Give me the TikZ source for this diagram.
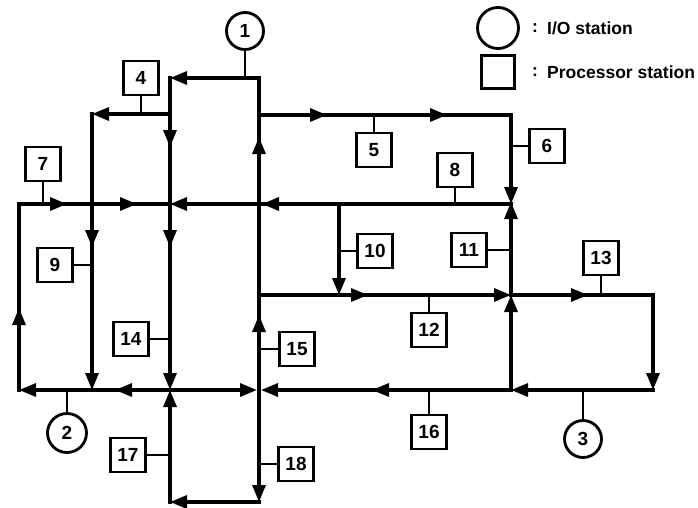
\documentclass[tikz,border=0pt]{standalone}
\usepackage{fontspec}
\setmainfont{Liberation Sans}
\usetikzlibrary{arrows.meta,decorations.markings}
\begin{document}
\begin{tikzpicture}[x=1pt,y=-1pt,
  bus/.style={line width=3.2pt,line cap=rect},
  stem/.style={line width=2.5pt},
  proc/.style={draw,line width=2.8pt,minimum width=35pt,minimum height=34pt,inner sep=0pt,font=\fontsize{19}{19}\selectfont\bfseries},
  io/.style={draw,circle,line width=2.8pt,minimum size=37pt,inner sep=0pt,font=\fontsize{19}{19}\selectfont\bfseries},
  legtext/.style={anchor=west,inner sep=0pt,font=\fontsize{17.5}{17.5}\selectfont\bfseries},
  tip/.style={-{Triangle[length=17pt,width=13pt]}},
  mk/.style={postaction={decorate,decoration={markings,mark=at position #1 with {\arrow{Triangle[length=17pt,width=13pt]}}}}},
]
\useasboundingbox (0,0) rectangle (698,508);

% junctions
\coordinate (TR) at (259,78);
\coordinate (TL) at (170,78);
\coordinate (A4) at (170,114);
\coordinate (L4) at (92,114);
\coordinate (C204) at (170,204);
\coordinate (C390) at (170,390);
\coordinate (CB) at (170,502);
\coordinate (DB) at (259,502);
\coordinate (D390) at (259,390);
\coordinate (D295) at (259,295);
\coordinate (D204) at (259,204);
\coordinate (D115) at (259,115);
\coordinate (E115) at (511,115);
\coordinate (E204) at (511,204);
\coordinate (E295) at (511,295);
\coordinate (E390) at (511,390);
\coordinate (F295) at (653,295);
\coordinate (F390) at (653,390);
\coordinate (L204) at (19,204);
\coordinate (L390) at (19,390);
\coordinate (N390) at (92,390);
\coordinate (M204) at (339,204);
\coordinate (M295) at (339,295);

% stations
\node[io] (io1) at (245,31) {1};
\node[io,minimum size=39pt] (io2) at (67,433) {2};
\node[io] (io3) at (583,439) {3};
\node[proc] (b4) at (141,78) {4};
\node[proc] (b5) at (374,150) {5};
\node[proc] (b6) at (547,146) {6};
\node[proc] (b7) at (43,164) {7};
\node[proc] (b8) at (455,170) {8};
\node[proc] (b9) at (55,265) {9};
\node[proc] (b10) at (375,251) {10};
\node[proc] (b11) at (469,250) {11};
\node[proc] (b12) at (429,330) {12};
\node[proc] (b13) at (601,258) {13};
\node[proc] (b14) at (131,339) {14};
\node[proc] (b15) at (297,349) {15};
\node[proc] (b16) at (429,432) {16};
\node[proc] (b17) at (128,455) {17};
\node[proc] (b18) at (296,464) {18};

% legend
\node[io,minimum size=41pt] (legc) at (498,28) {};
\node[draw,line width=2.8pt,minimum size=33pt,inner sep=0pt] (legs) at (498,72) {};
\node[legtext] (lc1) at (532,28) {:};
\node[legtext] (lt1) at (547,28) {I/O station};
\node[legtext] (lc2) at (532,72) {:};
\node[legtext] (lt2) at (547,72) {Processor station};

% ring segments
\draw[bus,tip] (TR) -- (TL);
\draw[bus] (TL) -- (A4);
\draw[bus,tip] (A4) -- (L4);
\draw[bus,tip,mk=133pt] (L4) -- (N390);
\draw[bus,mk=33pt] (A4) -- (C204);
\draw[bus,tip,mk=43pt] (C204) -- (C390);
\draw[bus,tip] (CB) -- (C390);
\draw[bus,tip] (DB) -- (CB);
\draw[bus,tip] (D390) -- (DB);
\draw[bus,mk=75pt] (D390) -- (D295);
\draw[bus] (D295) -- (D204);
\draw[bus,mk=67pt] (D204) -- (D115);
\draw[bus] (D115) -- (TR);
\draw[bus,mk=68pt,mk=188pt] (D115) -- (E115);
\draw[bus,tip] (E115) -- (E204);
\draw[bus,tip,shorten >=-2pt] (E295) -- (E204);
\draw[bus,tip] (E390) -- (E295);
\draw[bus,tip] (F295) -- (F390);
\draw[bus,tip] (F390) -- (E390);
\draw[bus,tip,mk=139pt,shorten >=2pt] (E390) -- (D390);
\draw[bus,tip,shorten >=2pt] (C390) -- (D390);
\draw[bus,tip,mk=55pt] (C390) -- (L390);
\draw[bus,mk=82pt] (L390) -- (L204);
\draw[bus,mk=48pt,mk=118pt] (L204) -- (C204);
\draw[bus,tip,mk=249pt] (E204) -- (C204);
\draw[bus,tip] (M204) -- (M295);
\draw[bus,tip,mk=109pt] (D295) -- (E295);
\draw[bus,mk=77pt] (E295) -- (F295);

% station stems
\draw[stem] (io1.south) -- (io1.south |- TR);
\draw[stem] (io2.north) -- (io2.north |- L390);
\draw[stem] (io3.north) -- (io3.north |- E390);
\draw[stem] (b4.south) -- (b4.south |- A4);
\draw[stem] (b5.north) -- (b5.north |- D115);
\draw[stem] (b6.west) -- (b6.west -| E115);
\draw[stem] (b7.south) -- (b7.south |- L204);
\draw[stem] (b8.south) -- (b8.south |- E204);
\draw[stem] (b9.east) -- (b9.east -| N390);
\draw[stem] (b10.west) -- (b10.west -| M204);
\draw[stem] (b11.east) -- (b11.east -| E204);
\draw[stem] (b12.north) -- (b12.north |- D295);
\draw[stem] (b13.south) -- (b13.south |- F295);
\draw[stem] (b14.east) -- (b14.east -| C204);
\draw[stem] (b15.west) -- (b15.west -| D295);
\draw[stem] (b16.north) -- (b16.north |- E390);
\draw[stem] (b17.east) -- (b17.east -| C390);
\draw[stem] (b18.west) -- (b18.west -| D390);
\end{tikzpicture}
\end{document}
